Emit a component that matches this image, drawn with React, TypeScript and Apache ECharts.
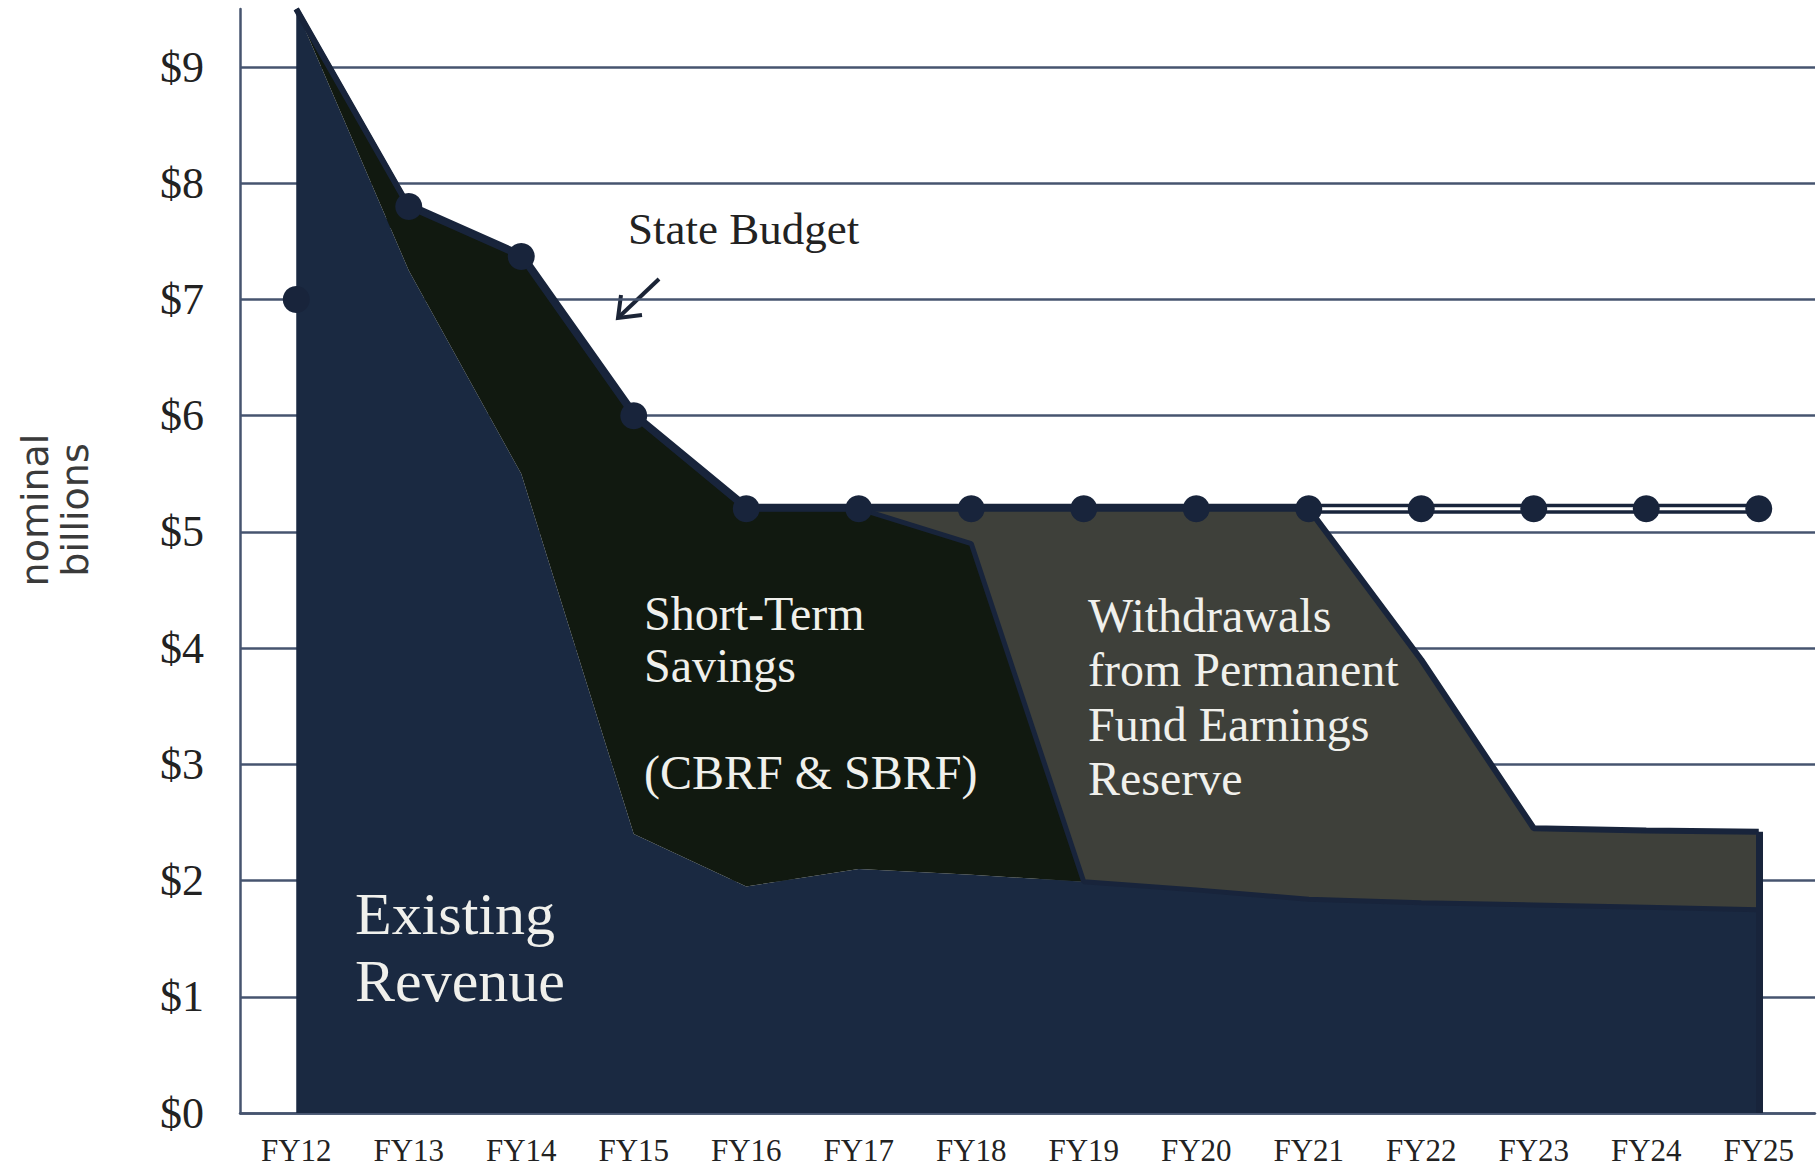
import React, { useEffect, useRef } from "react";
import * as echarts from "echarts";

const categories = ["FY12", "FY13", "FY14", "FY15", "FY16", "FY17", "FY18", "FY19", "FY20", "FY21", "FY22", "FY23", "FY24", "FY25"];
const existingRevenue = [9.5, 7.25, 5.5, 2.4, 1.95, 2.1, 2.05, 1.99, 1.92, 1.84, 1.81, 1.79, 1.77, 1.75];
const shortTermSavings = [0, 0.55, 1.87, 3.6, 3.25, 3.1, 2.85, 0, 0, 0, 0, 0, 0, 0];
const permanentFundWithdrawals = [0, 0, 0, 0, 0, 0, 0.3, 3.21, 3.28, 3.36, 2.09, 0.66, 0.66, 0.67];
const stateBudget = [7.0, 7.8, 7.37, 6.0, 5.2, 5.2, 5.2, 5.2, 5.2, 5.2, 5.2, 5.2, 5.2, 5.2];
const projectedFromIndex = 9; // FY21 onward drawn as double line
const yTickLabels = ["$0", "$1", "$2", "$3", "$4", "$5", "$6", "$7", "$8", "$9"];

const NAVY_AREA = "#1a2941";
const NAVY_LINE = "#18243b";
const BLACK_AREA = "#111910";
const GRAY_AREA = "#3e403a";
const GRID = "#46546f";
const SERIF = '"Liberation Serif", "DejaVu Serif", serif';

function buildOption() {
  const last = categories.length - 1;
  const lastTotal = existingRevenue[last] + shortTermSavings[last] + permanentFundWithdrawals[last];
  const splitColors = yTickLabels.map(() => GRID).concat(["rgba(0,0,0,0)"]);
  const txt = (text: string, x: number, y: number, size: number, lineHeight: number, fill: string) => ({
    type: "text",
    x,
    y,
    z: 100,
    silent: true,
    style: {
      text,
      fill,
      fontSize: size,
      fontFamily: SERIF,
      lineHeight,
      align: "left",
      verticalAlign: "top",
      textAlign: "left",
      textVerticalAlign: "top",
    },
  });
  return {
    animation: false,
    backgroundColor: "#ffffff",
    grid: { left: 240, right: 4, top: 9, bottom: 58, containLabel: false, outerBoundsMode: "none" },
    xAxis: {
      type: "category",
      data: categories,
      boundaryGap: true,
      axisLine: { show: true, lineStyle: { color: GRID, width: 2.5 } },
      axisTick: { show: false },
      splitLine: { show: false },
      axisLabel: { color: "#222", fontFamily: SERIF, fontSize: 31, margin: 22 },
    },
    yAxis: {
      type: "value",
      min: 0,
      max: 9.5,
      interval: 1,
      axisLine: { show: true, lineStyle: { color: GRID, width: 2.5 } },
      axisTick: { show: false },
      splitLine: { show: true, lineStyle: { color: splitColors, width: 2.5 } },
      axisLabel: {
        color: "#222",
        fontFamily: SERIF,
        fontSize: 44,
        margin: 36,
        showMaxLabel: false,
        formatter: (v: number) => yTickLabels[Math.round(v)] ?? "",
      },
    },
    series: [
      {
        name: "State Budget",
        type: "line",
        z: 1,
        data: stateBudget,
        showSymbol: false,
        lineStyle: { color: NAVY_LINE, width: 10 },
        silent: true,
      },
      {
        name: "Existing Revenue",
        type: "line",
        stack: "total",
        z: 2,
        data: existingRevenue,
        showSymbol: false,
        lineStyle: { width: 0, color: NAVY_AREA },
        areaStyle: { color: NAVY_AREA, opacity: 1 },
        silent: true,
      },
      {
        name: "Short-Term Savings",
        type: "line",
        stack: "total",
        z: 2,
        data: shortTermSavings,
        showSymbol: false,
        lineStyle: { width: 5, color: NAVY_LINE },
        areaStyle: { color: BLACK_AREA, opacity: 1 },
        silent: true,
      },
      {
        name: "Withdrawals from Permanent Fund Earnings Reserve",
        type: "line",
        stack: "total",
        z: 2,
        data: permanentFundWithdrawals,
        showSymbol: false,
        lineStyle: { width: 6, color: NAVY_LINE },
        areaStyle: { color: GRAY_AREA, opacity: 1 },
        silent: true,
        markLine: {
          silent: true,
          symbol: "none",
          label: { show: false },
          lineStyle: { color: NAVY_LINE, width: 7, type: "solid", opacity: 1 },
          data: [[{ coord: [categories[last], 0] }, { coord: [categories[last], lastTotal] }]],
        },
      },
      {
        name: "State Budget inner",
        type: "line",
        z: 3,
        data: stateBudget.map((v, i) => (i >= projectedFromIndex ? v : "-")),
        showSymbol: false,
        lineStyle: { color: "#ffffff", width: 3 },
        silent: true,
      },
      {
        name: "State Budget points",
        type: "scatter",
        z: 4,
        data: stateBudget,
        symbol: "circle",
        symbolSize: 27,
        itemStyle: { color: NAVY_LINE, opacity: 1 },
        silent: true,
      },
    ],
    graphic: [
      {
        type: "text",
        x: 55,
        y: 510,
        rotation: Math.PI / 2,
        silent: true,
        style: {
          text: "nominal\nbillions",
          fill: "#3a3a3a",
          fontSize: 38,
          fontFamily: '"DejaVu Sans", sans-serif',
          lineHeight: 40,
          align: "center",
          verticalAlign: "middle",
          textAlign: "center",
          textVerticalAlign: "middle",
        },
      },
      txt("State Budget", 628, 206, 45, 45, "#222"),
      {
        type: "line",
        silent: true,
        shape: { x1: 659, y1: 279, x2: 620, y2: 316 },
        style: { stroke: "#1b2436", lineWidth: 4 },
      },
      {
        type: "polyline",
        silent: true,
        shape: { points: [[621, 295], [618, 318], [642, 315]] },
        style: { stroke: "#1b2436", lineWidth: 4, fill: null },
      },
      txt("Short-Term\nSavings", 644, 587, 48, 52, "#f0f0ec"),
      txt("(CBRF & SBRF)", 644, 746, 48, 52, "#f0f0ec"),
      txt("Withdrawals\nfrom Permanent\nFund Earnings\nReserve", 1088, 588, 48, 54.5, "#f0f0ec"),
      txt("Existing\nRevenue", 355, 880, 60, 67, "#f0f0ec"),
    ],
  };
}

export default function App() {
  const ref = useRef<HTMLDivElement>(null);
  useEffect(() => {
    if (!ref.current) return;
    const chart = echarts.init(ref.current, null, { renderer: "svg" });
    chart.setOption(buildOption() as any);
    return () => chart.dispose();
  }, []);
  return (
    <div
      ref={ref}
      style={{ position: "absolute", left: 0, top: 0, width: 1819, height: 1171, background: "#ffffff" }}
    />
  );
}
